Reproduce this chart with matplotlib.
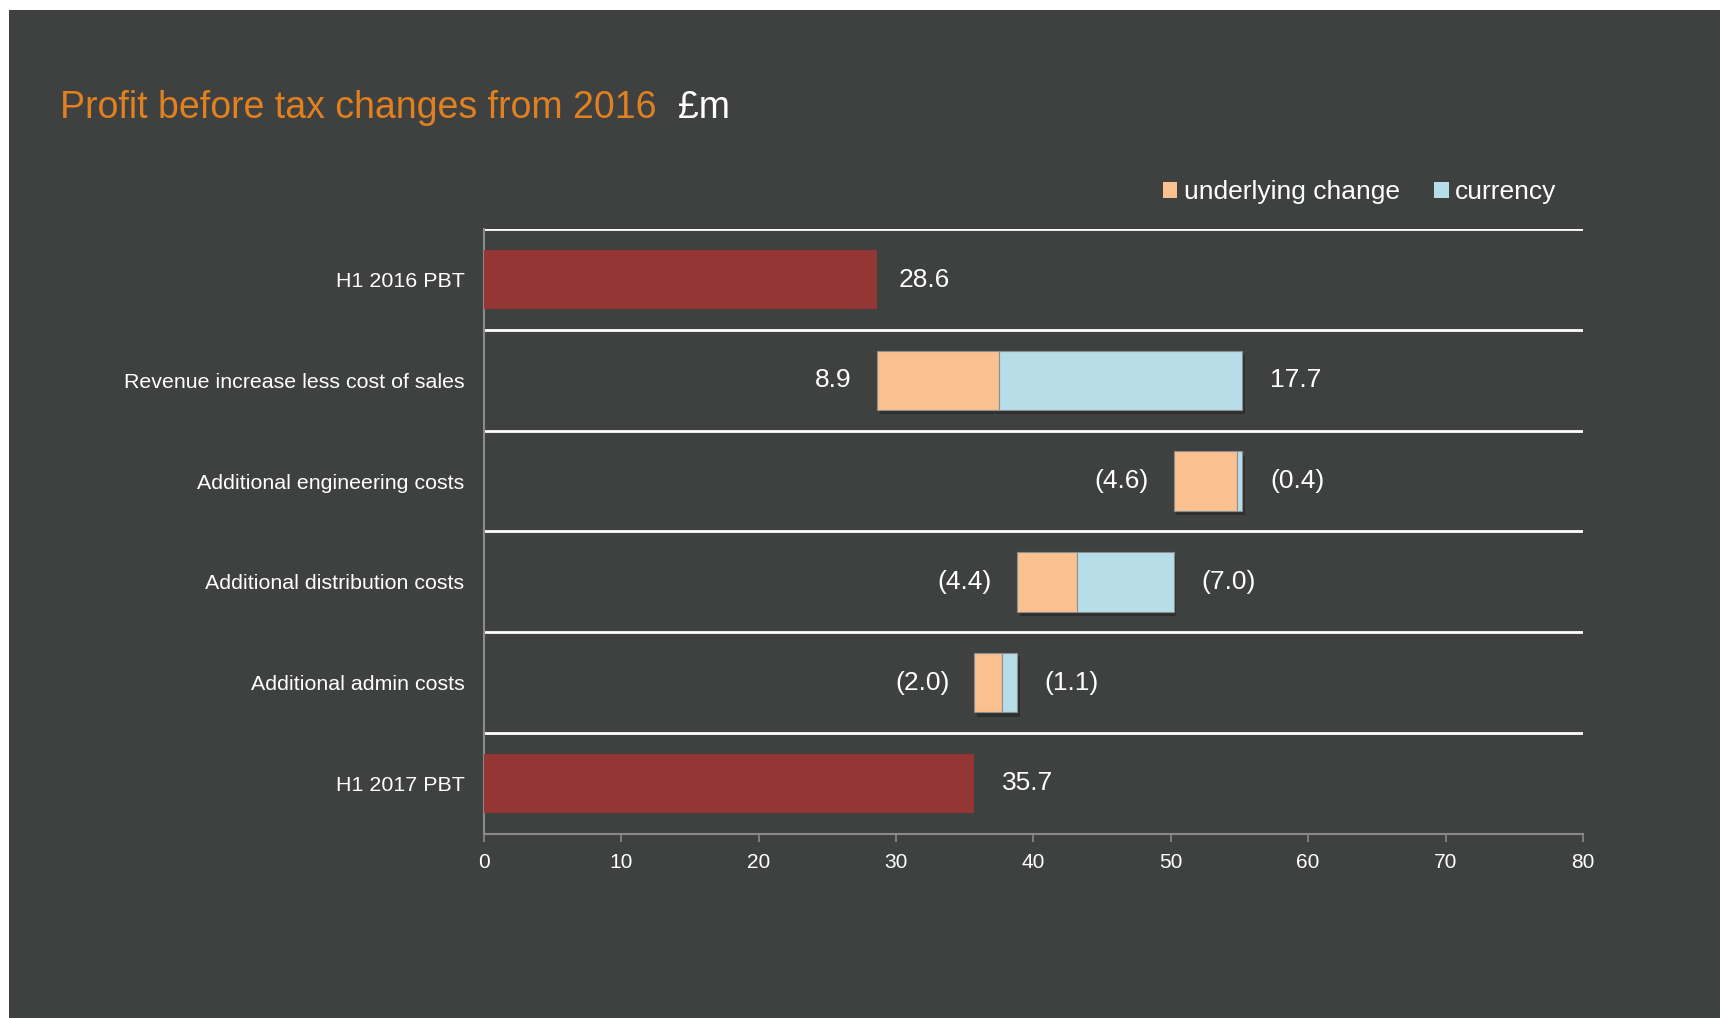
import numpy as np
import matplotlib.pyplot as plt
from matplotlib.patches import Patch, Rectangle
import matplotlib.patheffects as pe

# data
categories = ["H1 2016 PBT", "Revenue increase less cost of sales",
              "Additional engineering costs", "Additional distribution costs",
              "Additional admin costs", "H1 2017 PBT"]
pbt_2016 = 28.6
pbt_2017 = 35.7
underlying = [8.9, -4.6, -4.4, -2.0]
currency = [17.7, -0.4, -7.0, -1.1]

# colours
bg = "#3f4040"
red = "#943634"
orange = "#fac090"
blue = "#b7dde8"
title_orange = "#e0801f"
grey = "#8a8a8a"

plt.rcParams["font.family"] = ["Liberation Sans", "DejaVu Sans"]

fig = plt.figure(figsize=(17.2, 10.18), dpi=100)
fig.patch.set_facecolor("white")
fig.patches.append(Rectangle((0.0052, 0), 1, 1 - 0.0098, transform=fig.transFigure,
                             facecolor=bg, edgecolor="none", zorder=-10))

ax = fig.add_axes([0.2813, 0.181, 0.9203 - 0.2813, 0.7748 - 0.181])
ax.set_facecolor(bg)

n = len(categories)
ypos = np.arange(n)
h = 0.59


def fmt(v):
    return f"({abs(v):.1f})" if v < 0 else f"{v:.1f}"


def label(x, y, txt, side, off=None):
    if off is None:
        off = -18 if side == "left" else 20
    ax.annotate(txt, (x, y), xytext=(off, 0), textcoords="offset points",
                ha="right" if side == "left" else "left", va="center",
                color="white", fontsize=19)


# start / end totals
ax.barh(ypos[0], pbt_2016, height=h, color=red, zorder=3)
label(pbt_2016, ypos[0], fmt(pbt_2016), "right", off=16)

shadow = [pe.SimplePatchShadow(offset=(2, -3), shadow_rgbFace="black", alpha=0.25), pe.Normal()]
total = pbt_2016
for i, (u, c) in enumerate(zip(underlying, currency)):
    y = ypos[i + 1]
    new_total = total + u + c
    left = min(total, new_total)
    b1 = ax.barh(y, abs(u), left=left, height=h, color=orange,
                 edgecolor="#8a9090", linewidth=0.8, zorder=3)
    b2 = ax.barh(y, abs(c), left=left + abs(u), height=h, color=blue,
                 edgecolor="#8a9090", linewidth=0.8, zorder=3)
    for b in list(b1) + list(b2):
        b.set_path_effects(shadow)
    label(left, y, fmt(u), "left")
    label(left + abs(u) + abs(c), y, fmt(c), "right")
    total = new_total

ax.barh(ypos[-1], pbt_2017, height=h, color=red, zorder=3)
label(pbt_2017, ypos[-1], fmt(pbt_2017), "right")

# axes styling
ax.set_xlim(0, 80)
ax.set_ylim(n - 0.5, -0.5)
ax.set_xticks(np.arange(0, 81, 10))
ax.set_yticks(ypos)
ax.set_yticklabels(categories)
ax.set_yticks(np.arange(-0.5, n - 1), minor=True)
ax.grid(which="minor", axis="y", color="white", linewidth=2, zorder=1)
ax.tick_params(axis="y", which="both", length=0, pad=14, labelcolor="white", labelsize=15.4)
ax.tick_params(axis="x", length=6, width=1.2, color=grey, pad=8,
               labelcolor="white", labelsize=15)
for s in ["top", "right"]:
    ax.spines[s].set_visible(False)
for s in ["left", "bottom"]:
    ax.spines[s].set_color(grey)
    ax.spines[s].set_linewidth(1.5)

# legend
handles = [Patch(facecolor=orange, label="underlying change"),
           Patch(facecolor=blue, label="currency")]
fig.legend(handles=handles, loc="center right", bbox_to_anchor=(0.905, 0.8115),
           ncol=2, frameon=False, fontsize=19, labelcolor="white",
           handlelength=0.55, handleheight=0.55, handletextpad=0.25,
           columnspacing=1.3, borderpad=0, borderaxespad=0)

# title
t1 = fig.text(0.035, 0.8836, "Profit before tax changes from 2016", color=title_orange,
              fontsize=27, va="baseline", ha="left")
fig.canvas.draw()
bb = t1.get_window_extent().transformed(fig.transFigure.inverted())
fig.text(bb.x1 + 0.0125, 0.8836, "£m", color="white", fontsize=27, va="baseline", ha="left")

fig.savefig("out.png", dpi=100, facecolor=fig.get_facecolor())
